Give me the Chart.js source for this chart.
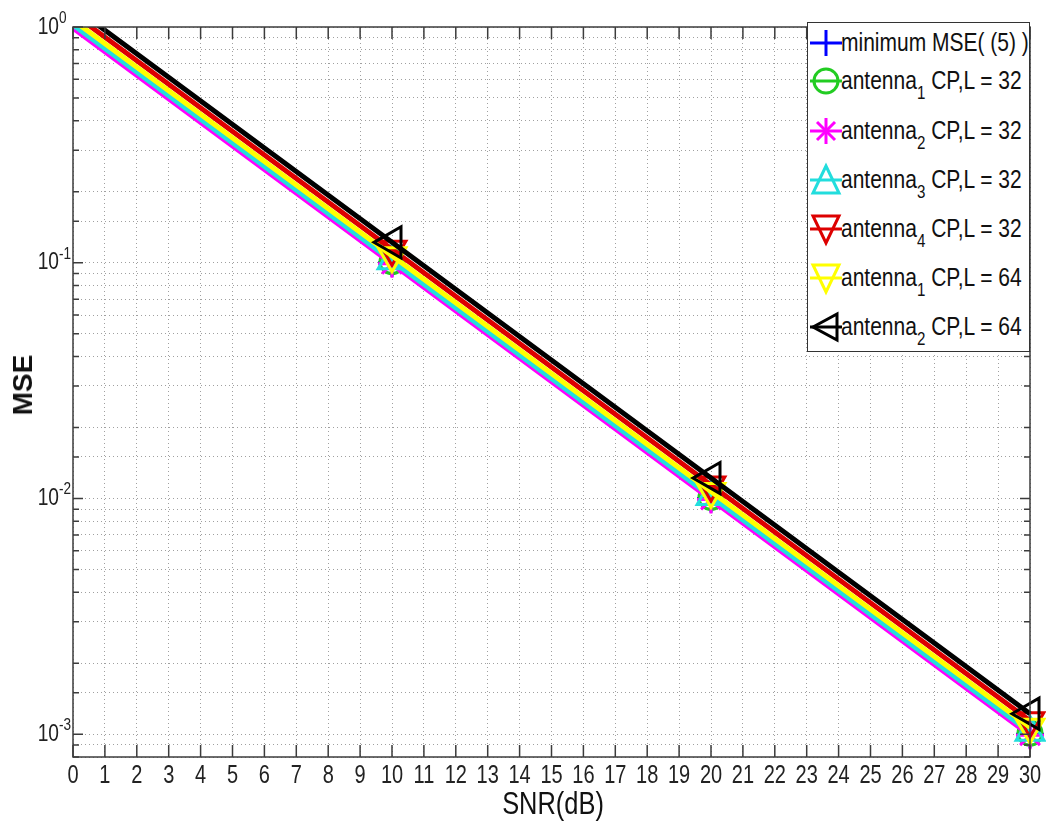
<!DOCTYPE html>
<html>
<head>
<meta charset="utf-8">
<script src="https://cdn.jsdelivr.net/npm/chart.js@4/dist/chart.umd.min.js"></script>
<style>
    body { margin: 0; background: #fff; }
    #wrap { position: relative; width: 1046px; height: 829px; }
    .axis-title { position: absolute; color: #111; white-space: nowrap; }
    #xTitle { left: 553px; top: 804px; transform: translate(-50%, -50%) scaleX(0.82); font: 31px 'Liberation Sans', Arial, sans-serif; }
    #yTitle { left: 23px; top: 385px; transform: translate(-50%, -50%) rotate(-90deg); font: bold 28px 'Liberation Sans', Arial, sans-serif; }
    #legend { position: absolute; left: 807px; top: 22px; width: 223px; height: 330px; border: 1px solid #333; background: #fff; box-sizing: border-box; }
    .row { position: absolute; left: 0; height: 36px; width: 220px; }
    .row svg { position: absolute; left: 0; top: 0; }
    .row span { position: absolute; left: 33px; top: 3px; line-height: 30px; font: 25px 'Liberation Sans', Arial, sans-serif; color: #111; white-space: nowrap; transform: scaleX(0.84); transform-origin: 0 50%; }
    .row sub { font-size: 18px; vertical-align: -10px; line-height: 0; }
</style>
</head>
<body>
<div id="wrap">
    <canvas id="mseChart" width="1046" height="829"></canvas>
    <div class="axis-title" id="xTitle">SNR(dB)</div>
    <div class="axis-title" id="yTitle">MSE</div>
    <div id="legend"></div>
</div>
<script>
// values (markers sit at 10, 20, 30 dB)
const snrDb = [0, 10, 20, 30];
const minMse = [1.0, 0.1, 0.01, 0.001];
const ant1L32 = [1.01, 0.101, 0.0101, 0.00101];
const ant2L32 = [0.99, 0.099, 0.0099, 0.00099];
const ant3L32 = [1.02, 0.102, 0.0102, 0.00102];
const ant4L32 = [1.14, 0.114, 0.0114, 0.00114];
const ant1L64 = [1.07, 0.107, 0.0107, 0.00107];
const ant2L64 = [1.22, 0.122, 0.0122, 0.00122];

const seriesLabels = [
    'minimum MSE( (5) )',
    'antenna<sub>1</sub> CP,L = 32',
    'antenna<sub>2</sub> CP,L = 32',
    'antenna<sub>3</sub> CP,L = 32',
    'antenna<sub>4</sub> CP,L = 32',
    'antenna<sub>1</sub> CP,L = 64',
    'antenna<sub>2</sub> CP,L = 64'
];
const seriesValues = [minMse, ant1L32, ant2L32, ant3L32, ant4L32, ant1L64, ant2L64];
const seriesColors = ['#0000ff', '#22cc22', '#ff00ff', '#22dddd', '#dd0000', '#ffff00', '#000000'];
const seriesMarkers = ['plus', 'circle', 'star', 'up', 'down', 'down', 'left'];

const yDecades = [1, 0.1, 0.01, 0.001];
const yExponents = ['0', '-1', '-2', '-3'];

const FONT = "'Liberation Sans', Arial, sans-serif";
const SQUEEZE = 0.8; // the original uses a condensed face

const MARKER_STYLE = {
    plus: { style: 'cross', rot: 0, r: 14 },
    circle: { style: 'circle', rot: 0, r: 12 },
    star: { style: 'star', rot: 0, r: 14 },
    up: { style: 'triangle', rot: 0, r: 16 },
    down: { style: 'triangle', rot: 180, r: 16 },
    left: { style: 'triangle', rot: -90, r: 18 }
};

const datasets = seriesValues.map((vals, i) => {
    const m = MARKER_STYLE[seriesMarkers[i]];
    return {
        label: seriesLabels[i],
        data: snrDb.map((x, k) => ({ x, y: vals[k] })),
        borderColor: seriesColors[i],
        backgroundColor: 'transparent',
        borderWidth: 5,
        pointStyle: m.style,
        pointRotation: m.rot,
        pointRadius: snrDb.map(x => x === 0 ? 0 : m.r),
        pointBorderWidth: 3,
        pointBorderColor: seriesColors[i],
        pointBackgroundColor: 'transparent',
        order: seriesValues.length - i,
        clip: { left: 0, top: 0, right: 16, bottom: 12 }
    };
});

const isDecade = v => Math.abs(Math.log10(v) - Math.round(Math.log10(v))) < 1e-6;

const squeezedText = (ctx, text, x, y) => {
    ctx.save();
    ctx.translate(x, y);
    ctx.scale(SQUEEZE, 1);
    ctx.fillText(text, 0, 0);
    ctx.restore();
};

// MATLAB-like box, inward ticks and tick labels
const framePlugin = {
    id: 'frame',
    afterDraw(chart) {
        const { ctx, chartArea: a, scales: { x, y } } = chart;
        ctx.save();
        ctx.strokeStyle = '#3c3c3c';
        ctx.lineWidth = 1.5;
        ctx.strokeRect(a.left, a.top, a.right - a.left, a.bottom - a.top);

        ctx.beginPath();
        x.ticks.forEach(t => {
            const px = x.getPixelForValue(t.value);
            ctx.moveTo(px, a.bottom); ctx.lineTo(px, a.bottom - 12);
            ctx.moveTo(px, a.top); ctx.lineTo(px, a.top + 12);
        });
        y.ticks.forEach(t => {
            const py = y.getPixelForValue(t.value);
            const len = isDecade(t.value) ? 10 : 6;
            ctx.moveTo(a.left, py); ctx.lineTo(a.left + len, py);
            ctx.moveTo(a.right, py); ctx.lineTo(a.right - len, py);
        });
        ctx.stroke();

        ctx.fillStyle = '#222';
        ctx.font = '25px ' + FONT;
        ctx.textAlign = 'center';
        ctx.textBaseline = 'middle';
        x.ticks.forEach(t => squeezedText(ctx, String(t.value), x.getPixelForValue(t.value), a.bottom + 19));

        yDecades.forEach((v, i) => {
            const py = y.getPixelForValue(v);
            ctx.font = '24px ' + FONT;
            ctx.textAlign = 'right';
            ctx.textBaseline = 'middle';
            squeezedText(ctx, '10', 59, py);
            ctx.font = '17px ' + FONT;
            ctx.textAlign = 'left';
            ctx.textBaseline = 'alphabetic';
            squeezedText(ctx, yExponents[i], 59, py - 4);
        });
        ctx.restore();
    }
};

new Chart(document.getElementById('mseChart'), {
    type: 'line',
    data: { datasets },
    options: {
        responsive: false,
        animation: false,
        layout: { autoPadding: false, padding: { top: 27, right: 16, left: 0, bottom: 0 } },
        plugins: { legend: { display: false }, tooltip: { enabled: false } },
        scales: {
            x: {
                type: 'linear',
                min: 0,
                max: 30,
                afterFit: s => { s.height = 72; },
                grid: { color: '#a0a0a0', lineWidth: 1, drawTicks: false },
                border: { display: false, dash: [1, 3] },
                ticks: { stepSize: 1, autoSkip: false, maxRotation: 0, callback: () => '' }
            },
            y: {
                type: 'logarithmic',
                min: 0.0008,
                max: 1,
                afterFit: s => { s.width = 73; },
                grid: { color: '#a0a0a0', lineWidth: 1, drawTicks: false },
                border: { display: false, dash: [1, 3] },
                ticks: { autoSkip: false, callback: () => '' }
            }
        }
    },
    plugins: [framePlugin]
});

// legend with MATLAB-style samples
const markerSvg = (kind, color) => {
    const c = 18, mid = 18;
    let shape = '';
    if (kind === 'plus') shape = `<line x1="${c}" y1="5" x2="${c}" y2="31"/>`;
    if (kind === 'circle') shape = `<circle cx="${c}" cy="${mid}" r="12"/>`;
    if (kind === 'star') shape = `<line x1="${c}" y1="5" x2="${c}" y2="31"/><line x1="9" y1="9" x2="27" y2="27"/><line x1="27" y1="9" x2="9" y2="27"/>`;
    if (kind === 'up') shape = `<polygon points="${c},4 5,31 31,31"/>`;
    if (kind === 'down') shape = `<polygon points="5,5 31,5 ${c},32"/>`;
    if (kind === 'left') shape = `<polygon points="5,${mid} 29,5 29,31"/>`;
    return `<svg width="36" height="36" fill="none" stroke="${color}" stroke-width="3">
        <line x1="2" y1="${mid}" x2="34" y2="${mid}"/>${shape}</svg>`;
};

const rowTops = [2, 40, 90, 139, 188, 237, 286];
document.getElementById('legend').innerHTML = seriesLabels.map((lbl, i) =>
    `<div class="row" style="top:${rowTops[i]}px">${markerSvg(seriesMarkers[i], seriesColors[i])}<span>${lbl}</span></div>`
).join('');
</script>
</body>
</html>
